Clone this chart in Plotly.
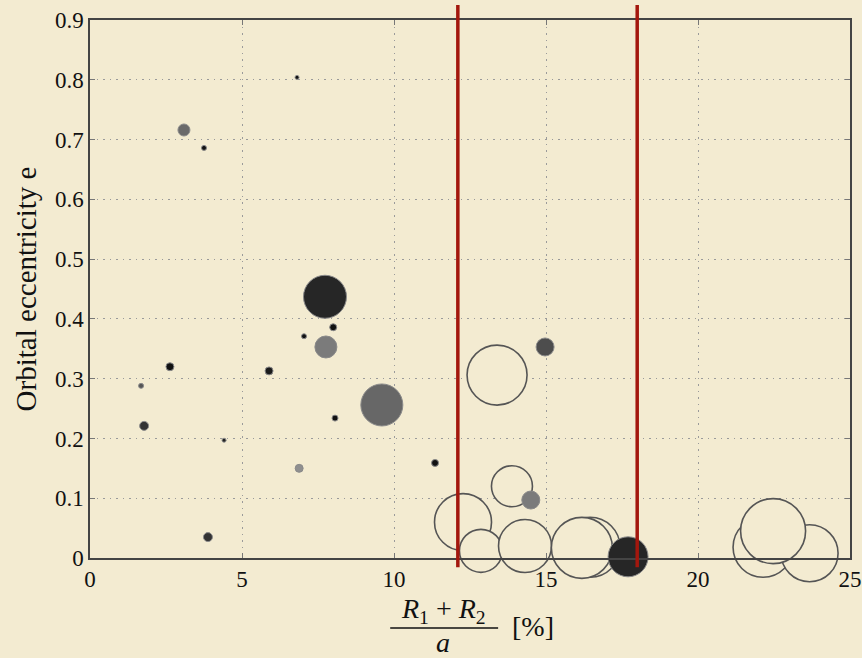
import plotly.graph_objects as go

# Binary systems: relative size (R1+R2)/a in percent vs. orbital eccentricity
sep_pct = [13.39, 13.88, 12.27, 12.86, 14.31, 16.45, 16.18, 22.14, 23.67, 22.47,
           7.73, 9.60, 7.76, 3.09, 14.97, 14.50, 17.70, 6.88, 1.68,
           3.75, 6.81, 8.00, 7.04, 2.63, 5.89, 8.06, 1.78, 4.41, 3.88, 11.35]
ecc = [0.306, 0.120, 0.060, 0.012, 0.020, 0.018, 0.017, 0.018, 0.008, 0.045,
       0.437, 0.256, 0.353, 0.716, 0.353, 0.097, 0.002, 0.150, 0.288,
       0.686, 0.804, 0.386, 0.371, 0.320, 0.313, 0.234, 0.221, 0.197, 0.035, 0.159]
bubble_px = [60, 41, 57, 43, 53, 60, 61, 60, 57, 65,
             43, 42, 22, 12, 18, 18, 40, 8, 5,
             5, 4, 7, 5, 8, 8, 6, 9, 4, 9, 7]
fill = ["open"] * 10 + [
    "#262626", "#676767", "#7b7b7b", "#6a6a6a", "#4d4d4d", "#7b7b7b", "#262626", "#8f8f8f", "#555555",
    "#111111", "#111111", "#111111", "#111111", "#111111", "#1a1a1a", "#111111", "#333333", "#222222",
    "#333333", "#111111"]

# Stability boundaries marked in red
limits_pct = [12.1, 18.0]

x_ticks = [0, 5, 10, 15, 20, 25]
x_ticktext = ["0", "5", "10", "15", "20", "25"]
y_ticks = [0, 0.1, 0.2, 0.3, 0.4, 0.5, 0.6, 0.7, 0.8, 0.9]
y_ticktext = ["0", "0.1", "0.2", "0.3", "0.4", "0.5", "0.6", "0.7", "0.8", "0.9"]

BG = "#f3ebd1"
SERIF = "Liberation Serif, DejaVu Serif, serif"

marker_colors = [BG if f == "open" else f for f in fill]
line_colors = ["#555555" if f == "open" else "#8a8a8a" for f in fill]
line_widths = [1.6 if f == "open" else 1.0 for f in fill]

fig = go.Figure()
fig.add_trace(go.Scatter(
    x=sep_pct, y=ecc, mode="markers",
    marker=dict(size=bubble_px, color=marker_colors, opacity=1,
                line=dict(color=line_colors, width=line_widths)),
    hoverinfo="x+y", showlegend=False, cliponaxis=False,
))

for xv in limits_pct:
    fig.add_shape(type="line", xref="x", yref="paper", x0=xv, x1=xv,
                  y0=-0.017, y1=1.028, line=dict(color="#a3170d", width=3.5),
                  layer="above")

axis_common = dict(
    showline=True, linecolor="#444444", linewidth=1.5, mirror="ticks",
    ticks="inside", ticklen=5, tickcolor="#777777", tickwidth=1,
    showgrid=True, gridcolor="#9a9a9a", gridwidth=1.2, griddash="1.5px,5px",
    zeroline=False, tickfont=dict(family=SERIF, size=23, color="#111111"),
    automargin=False,
)

fig.update_xaxes(range=[0, 25], tickvals=x_ticks, ticktext=x_ticktext,
                 ticklabeloverflow="allow", **axis_common)
fig.update_yaxes(range=[0, 0.9], tickvals=y_ticks, ticktext=y_ticktext,
                 title=dict(text="Orbital eccentricity e",
                            font=dict(family=SERIF, size=29, color="#111111"),
                            standoff=10),
                 **axis_common)

# x-axis label written as a fraction: (R1 + R2) / a  [%]
label_font = dict(family=SERIF, size=28, color="#111111")
fig.add_annotation(xref="paper", yref="paper", x=0.4645, y=-0.097,
                   text="<i>R</i><sub>1</sub> + <i>R</i><sub>2</sub>",
                   showarrow=False, font=label_font, xanchor="center", yanchor="middle")
fig.add_shape(type="line", xref="paper", yref="paper", x0=0.395, x1=0.537,
              y0=-0.130, y1=-0.130, line=dict(color="#111111", width=1.4))
fig.add_annotation(xref="paper", yref="paper", x=0.4645, y=-0.157,
                   text="<i>a</i>", showarrow=False, font=label_font,
                   xanchor="center", yanchor="middle")
fig.add_annotation(xref="paper", yref="paper", x=0.583, y=-0.128,
                   text="[%]", showarrow=False, font=label_font,
                   xanchor="center", yanchor="middle")

fig.update_layout(
    width=862, height=658,
    margin=dict(l=90, r=12, t=20, b=100),
    paper_bgcolor=BG, plot_bgcolor=BG,
)

fig.write_html("out.html")
